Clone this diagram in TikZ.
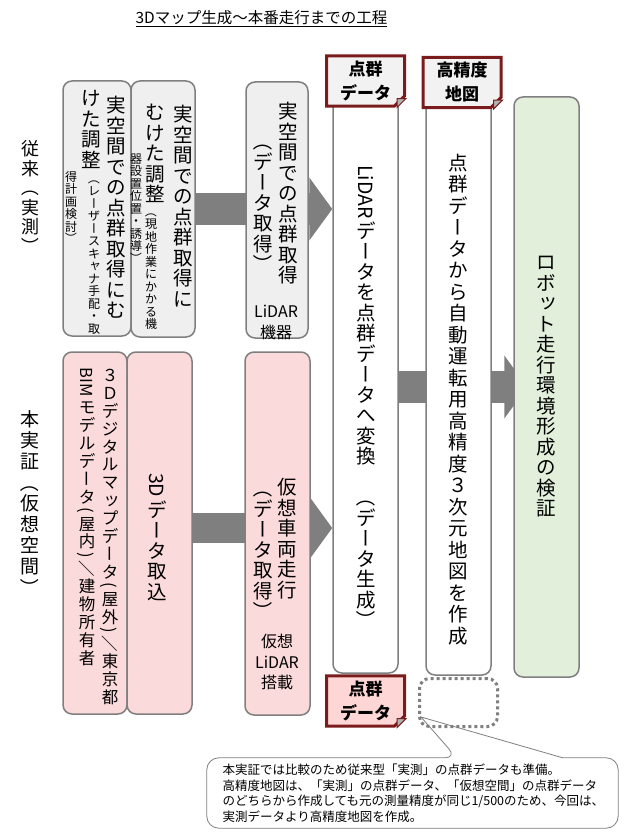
\documentclass[tikz,border=0pt]{standalone}
\usepackage{fontspec}
\setmainfont{Noto Sans CJK JP}
\usepackage{graphicx}
\usepackage{xcolor}
\usetikzlibrary{arrows.meta,shapes.misc,backgrounds}

\definecolor{waku}{HTML}{7F7F7F}
\definecolor{haiiro}{HTML}{EFEFEF}
\definecolor{momo}{HTML}{FBDADB}
\definecolor{midori}{HTML}{E2EFDA}
\definecolor{akaguro}{HTML}{7A1C1C}
\definecolor{taghai}{HTML}{F2F2F2}
\definecolor{tagmomo}{HTML}{FFD6D6}

% 縦書きの列
\makeatletter
\newbox\vcb
\newif\ifvrot
\def\vcBar{ー}\def\vcLp{（}\def\vcRp{）}\def\vcSl{／}
\def\vcTu{ッ}\def\vcYa{ャ}
\newcommand{\vcol}[2][1.1em]{\vbox{\offinterlineskip\@tfor\vc:=#2\do{\vcell{#1}}}}
\newcommand{\vcell}[1]{%
  \vrotfalse
  \setbox\vcb=\hbox{\vc}%
  \ifdim\wd\vcb<.95em \vrottrue\fi
  \ifdim\wd\vcb>1.05em \vrottrue\fi
  \ifx\vc\vcBar \vrottrue\fi
  \ifx\vc\vcLp \vrottrue\fi
  \ifx\vc\vcRp \vrottrue\fi
  \ifx\vc\vcSl \vrottrue\fi
  \ifx\vc\vcTu \setbox\vcb=\hbox{\kern.1em\raise.1em\hbox{\vc}}\wd\vcb=1em \fi
  \ifx\vc\vcYa \setbox\vcb=\hbox{\kern.1em\raise.1em\hbox{\vc}}\wd\vcb=1em \fi
  \ht\vcb=.88em \dp\vcb=.12em
  \ifvrot
    \ifdim\wd\vcb<.95em \vcnat
    \else\ifdim\wd\vcb>1.05em \vcnat
    \else \vbox to #1{\vss\hbox to 1em{\hss\rotatebox{-90}{\box\vcb}\hss}\vss}%
    \fi\fi
  \else
    \vbox to #1{\vss\hbox to 1em{\hss\box\vcb\hss}\vss}%
  \fi}
\newcommand{\vcnat}{\kern.1em\hbox to 1em{\hss\rotatebox{-90}{\box\vcb}\hss}\kern.1em}
\makeatother

\tikzset{
  box/.style={draw=waku, line width=1.5pt, rounded corners=9pt, inner sep=0pt},
  gbox/.style={box, fill=haiiro},
  pbox/.style={box, fill=momo},
  wbox/.style={box, fill=white},
  tate/.style={anchor=north, inner sep=0pt, font=\fontsize{19.5}{20}\selectfont},
  tatesmall/.style={tate, font=\fontsize{12}{13}\selectfont},
  yoko/.style={align=center, inner sep=0pt, font=\fontsize{16}{20.5}\selectfont},
  tag/.style={chamfered rectangle, chamfered rectangle corners=south east,
    chamfered rectangle xsep=5pt, chamfered rectangle ysep=5pt,
    draw=akaguro, line width=3pt, inner sep=0pt, align=center,
    minimum width=78pt, minimum height=49pt,
    font=\bfseries\fontsize{17}{24}\selectfont},
  yajirushi/.style={draw=waku, line width=32pt, -{Triangle[length=23pt,width=62pt]}},
}

\begin{document}
\begin{tikzpicture}[x=1pt,y=-1pt]
\useasboundingbox (0,0) rectangle (629,832);

% タイトル
\node[font=\fontsize{15.5}{18}\selectfont] (title) at (261.5,19) {\underline{3Dマップ生成～本番走行までの工程}};

% 左の見出し
\node[tate, font=\fontsize{18}{20}\selectfont] (lab1) at (30,139) {\vcol[19.5pt]{従来（実測）}};
\node[tate, font=\fontsize{19}{21}\selectfont] (lab2) at (30,409) {\vcol[21pt]{本実証（仮想空間）}};

% 上段（従来）
\node[gbox, minimum width=68pt, minimum height=255pt] (boxA) at (97,208.5) {};
\node[gbox, minimum width=64pt, minimum height=256pt] (boxB) at (163,209) {};
\node[gbox, minimum width=62pt, minimum height=256pt] (boxC) at (277,210) {};

% 下段（本実証）
\node[pbox, minimum width=64pt, minimum height=362pt] (boxD) at (95,533) {};
\node[pbox, minimum width=65pt, minimum height=362pt] (boxE) at (159.5,533) {};
\node[pbox, minimum width=65pt, minimum height=363pt] (boxF) at (277.5,533.5) {};

% 右の3列
\node[wbox, minimum width=65pt, minimum height=593pt] (col4) at (365.5,376.5) {};
\node[wbox, minimum width=65pt, minimum height=595pt] (col5) at (458.5,377.5) {};
\node[box, fill=midori, minimum width=65pt, minimum height=580pt] (col6) at (546.5,387) {};

% 矢印
\begin{scope}[on background layer]
  \draw[yajirushi] (boxB.east) -- (col4.west |- boxB.east);
  \coordinate (e2) at ([yshift=5pt]boxE.east);
  \draw[yajirushi, line width=30pt] (e2) -- (col4.west |- e2);
  \draw[yajirushi] (col4.east |- col6.west) -- ([xshift=14pt]col6.west);
\end{scope}

% 上段の文字
\node[tate] (a1) at (116,95) {\vcol[20.5pt]{実空間での点群取得にむ}};
\node[tate] (a2) at (91,88) {\vcol[20.5pt]{けた調整}};
\node[tatesmall] (a3) at (94,172) {\vcol[12.5pt]{（レーザースキャナ手配・取}};
\node[tatesmall] (a4) at (71,170) {\vcol[12.5pt]{得計画検討）}};
\node[tate] (b1) at (183,104) {\vcol[20.5pt]{実空間での点群取得に}};
\node[tate] (b2) at (155,102) {\vcol[20.5pt]{むけた調整}};
\node[tatesmall] (b3) at (151,205) {\vcol[12.5pt]{（現地作業にかかる機}};
\node[tatesmall] (b4) at (136,152) {\vcol[12.5pt]{器設置位置・誘導）}};
\node[tate] (c1) at (288,101) {\vcol[20.5pt]{実空間での点群取得}};
\node[tate] (c2) at (263,131) {\vcol[20.5pt]{（データ取得）}};
\node[yoko] (c3) at (276,322.5) {LiDAR\\機器};

% 下段の文字
\node[tate, font=\fontsize{16.5}{18}\selectfont] (d1) at (110,366) {\vcol[17.9pt]{３Ｄデジタルマップデータ(屋外)／東京都}};
\node[tate, font=\fontsize{16.5}{18}\selectfont] (d2) at (87,366) {\vcol[17.9pt]{{BIM}モデルデータ(屋内)／建物所有者}};
\node[tate] (e1) at (157,471) {\vcol[20.5pt]{{3D}データ取込}};
\node[tate] (f1) at (287,477) {\vcol[20.5pt]{仮想車両走行}};
\node[tate] (f2) at (263,478) {\vcol[20.5pt]{（データ取得）}};
\node[yoko] (f3) at (277,662) {仮想\\LiDAR\\搭載};

% 右の列の文字
\node[tate] (g1) at (366,163) {\vcol[20.5pt]{{LiDAR}データを点群データへ変換　（データ生成）}};
\node[tate] (h1) at (458,152) {\vcol[21.5pt]{点群データから自動運転用高精度３次元地図を作成}};
\node[tate] (k1) at (546,252) {\vcol[20.5pt]{ロボット走行環境形成の検証}};

% 付箋
\node[tag, fill=taghai] (tagA) at (365.5,81) {点群\\データ};
\node[tag, fill=taghai] (tagB) at (462,82.5) {高精度\\地図};
\node[tag, fill=tagmomo] (tagC) at (365.5,701) {点群\\データ};
\foreach \t in {tagA,tagB,tagC} {
  \coordinate (kado) at (\t.east |- \t.south);
  \filldraw[fill=gray!60, draw=akaguro, line width=1pt] ([xshift=-9pt]kado) -- ([yshift=9pt]kado) -- ([xshift=-9pt,yshift=9pt]kado) -- cycle;
}

% 点線の枠と吹き出し
\node[draw=waku, line width=3pt, dash pattern=on 3pt off 3pt, rounded corners=10pt,
  minimum width=78pt, minimum height=48pt] (blank) at (458.5,702.5) {};
\node[text width=380pt, align=left, minimum width=411pt, minimum height=70pt, inner sep=0pt,
  font=\fontsize{12.5}{15.5}\selectfont] (note) at (412.5,793) {本実証では比較のため従来型「実測」の点群データも準備。\\高精度地図は、「実測」の点群データ、「仮想空間」の点群データ\\のどちらから作成しても元の測量精度が同じ1/500のため、今回は、\\実測データより高精度地図を作成。};
\coordinate (tip) at ([xshift=3pt,yshift=11pt]blank.south west);
\coordinate (pA) at ([xshift=250pt]note.north west);
\coordinate (pB) at ([xshift=356pt]note.north west);
\draw[waku, line width=0.8pt] (pB) [rounded corners=12pt] -- (note.north east) -- (note.south east)
  -- (note.south west) -- (note.north west) -- (pA) [sharp corners] -- (tip) -- (pB);

\end{tikzpicture}
\end{document}
